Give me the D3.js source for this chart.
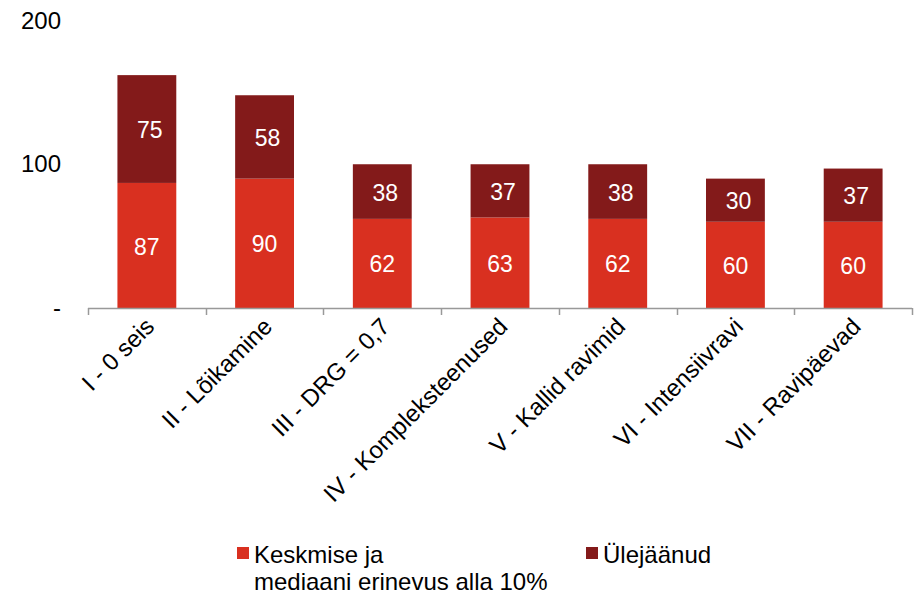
<!DOCTYPE html>
<html>
<head>
<meta charset="utf-8">
<script src="https://cdn.jsdelivr.net/npm/d3@7"></script>
<style>
  body { margin: 0; background: #fff; }
  svg { display: block; font-family: Arial, "Liberation Sans", sans-serif; }
</style>
</head>
<body>
<div id="chart"></div>
<script>
// data
const categories = ["I - 0 seis", "II - Lõikamine", "III - DRG = 0,7", "IV - Kompleksteenused", "V - Kallid ravimid", "VI - Intensiivravi", "VII - Ravipäevad"];
const keskmise = [87, 90, 62, 63, 62, 60, 60];
const ulejaanud = [75, 58, 38, 37, 38, 30, 37];
const seriesNames = ["Keskmise ja\nmediaani erinevus alla 10%", "Ülejäänud"];
const yTicks = [0, 100, 200];
const yTickLabels = ["-", "100", "200"];

const colors = ["#d93020", "#831a1a"];
const W = 918, H = 594;

const svg = d3.select("#chart").append("svg")
  .attr("width", W).attr("height", H);

const x = d3.scaleBand().domain(categories).range([88, 912]).paddingInner(0.5).paddingOuter(0.25);
const y = d3.scaleLinear().domain([0, 200]).range([308, 20.5]);

const rows = categories.map((c, i) => ({ cat: c, a: keskmise[i], b: ulejaanud[i] }));
const stack = d3.stack().keys(["a", "b"])(rows);

// bars
const layers = svg.append("g").selectAll("g").data(stack).join("g")
  .attr("fill", (d, i) => colors[i]);

layers.selectAll("rect").data(d => d).join("rect")
  .attr("x", d => x(d.data.cat))
  .attr("y", d => y(d[1]))
  .attr("width", x.bandwidth())
  .attr("height", d => y(d[0]) - y(d[1]));

// value labels
layers.each(function (layer, li) {
  d3.select(this).selectAll("text").data(layer).join("text")
    .attr("x", d => x(d.data.cat) + x.bandwidth() / 2 + (li === 1 ? 3 : 0))
    .attr("y", d => (y(d[0]) + y(d[1])) / 2 + 1)
    .attr("dy", "0.35em")
    .attr("text-anchor", "middle")
    .attr("fill", "#fff")
    .attr("font-size", 23)
    .text(d => d[1] - d[0]);
});

// x axis
const step = x.step();
const xg = svg.append("g");
xg.append("line")
  .attr("x1", 88).attr("x2", 912).attr("y1", 308.5).attr("y2", 308.5)
  .attr("stroke", "#999").attr("stroke-width", 1.5);
d3.range(categories.length + 1).forEach(i => {
  const tx = Math.round(88 + i * step) + 0.5;
  xg.append("line")
    .attr("x1", tx).attr("x2", tx).attr("y1", 308).attr("y2", 315)
    .attr("stroke", "#999").attr("stroke-width", 1.5);
});

xg.selectAll("text.cat").data(categories).join("text")
  .attr("class", "cat")
  .attr("text-anchor", "end")
  .attr("font-size", 24)
  .attr("fill", "#000")
  .attr("transform", d => `translate(${x(d) + x.bandwidth() / 2 + 9},${328}) rotate(-45)`)
  .text(d => d);

// y axis labels
const yAxis = d3.axisLeft(y).tickValues(yTicks).tickSize(0).tickFormat((d, i) => yTickLabels[i]);
const yg = svg.append("g").attr("transform", "translate(61,0)").call(yAxis);
yg.select(".domain").remove();
yg.selectAll("text").attr("font-size", 24).attr("fill", "#000")
  .attr("font-family", "Arial, 'Liberation Sans', sans-serif").attr("x", 0);

// legend
const legend = svg.append("g");
const legendX = [237, 586];
seriesNames.forEach((name, i) => {
  legend.append("rect")
    .attr("x", legendX[i]).attr("y", 547).attr("width", 12).attr("height", 12)
    .attr("fill", colors[i]);
  const t = legend.append("text")
    .attr("x", legendX[i] + 17).attr("y", 563)
    .attr("font-size", 24).attr("fill", "#000");
  name.split("\n").forEach((line, j) => {
    t.append("tspan").attr("x", legendX[i] + 17).attr("dy", j === 0 ? 0 : 27).text(line);
  });
});
</script>
</body>
</html>
